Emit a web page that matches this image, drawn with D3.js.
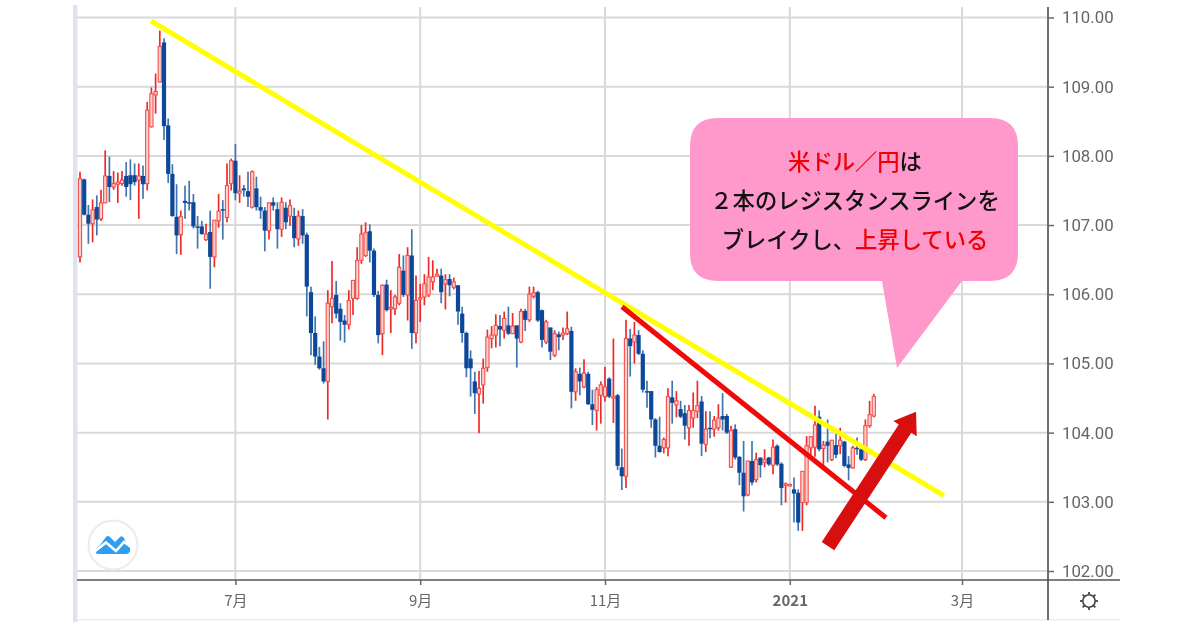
<!DOCTYPE html>
<html><head><meta charset="utf-8">
<script src="https://cdn.jsdelivr.net/npm/d3@7/dist/d3.min.js"></script>
<style>html,body{margin:0;padding:0;background:#fff;overflow:hidden}svg{display:block}</style>
</head><body><div id="chart"></div>
<script>
const opens=[106.54,107.66,107.15,107.02,107.26,107.09,107.32,107.71,107.55,107.59,107.60,107.71,107.72,107.72,107.65,107.71,107.60,108.42,108.88,109.07,109.64,108.44,107.74,107.12,106.86,107.35,107.33,107.33,106.98,106.98,106.79,106.90,106.54,107.06,107.23,107.11,107.60,107.93,107.46,107.53,107.49,107.26,107.53,107.26,107.21,106.92,
107.33,107.23,106.94,107.25,107.13,107.13,106.80,107.13,106.86,106.03,105.44,105.10,104.93,104.74,105.82,105.99,105.79,105.62,105.56,105.94,105.94,106.49,106.56,106.91,106.63,105.99,105.43,106.14,105.79,105.79,105.87,106.34,105.99,106.56,105.44,105.93,105.96,105.99,106.18,106.26,106.27,106.15,106.22,106.10,106.13,
105.72,105.44,105.07,104.74,104.56,104.69,104.94,105.36,105.41,105.54,105.48,105.55,105.43,105.55,105.31,105.76,105.63,105.97,106.03,105.77,105.31,105.52,105.12,105.42,105.41,105.43,105.47,104.59,104.85,104.66,104.85,104.41,104.32,104.54,104.52,104.78,104.50,104.54,103.50,103.37,105.36,105.31,105.41,105.14,
104.60,104.60,104.19,103.81,103.78,103.78,104.51,104.40,104.34,104.28,104.07,104.21,104.31,104.45,103.83,104.07,104.05,104.07,104.24,104.24,103.50,104.05,103.65,103.42,103.10,103.59,103.32,103.64,103.57,103.64,103.53,103.81,103.55,103.24,103.24,103.18,103.13,102.99,102.99,103.78,103.79,104.23,103.77,103.87,103.61,103.82,103.81,103.87,103.54,103.49,103.78,103.76,103.61,104.10,104.24];
const highs=[107.77,107.67,107.29,107.37,107.43,107.51,108.08,107.99,107.78,107.76,107.78,107.91,107.95,107.89,107.89,107.86,108.78,108.99,109.19,109.81,109.70,108.54,107.88,107.59,107.21,107.57,107.64,107.45,107.13,107.06,107.02,107.21,107.07,107.45,107.36,107.89,107.96,108.17,107.72,107.58,107.77,107.79,107.70,107.41,107.26,107.33,
107.40,107.33,107.40,107.33,107.37,107.25,107.21,107.23,106.89,106.11,105.68,105.24,105.32,106.06,106.48,106.19,105.87,105.70,106.06,106.20,106.68,107.00,107.04,107.01,106.66,106.05,106.14,106.21,106.06,105.99,106.58,106.56,106.68,106.94,106.27,106.15,106.29,106.54,106.49,106.37,106.37,106.29,106.29,106.24,106.13,
105.82,105.46,105.19,104.88,104.89,105.07,105.49,105.54,105.71,105.70,105.75,105.82,105.73,105.55,105.79,105.79,106.11,106.11,106.05,105.78,105.63,105.52,105.48,105.46,105.52,105.75,105.53,104.93,104.94,105.06,104.88,104.62,104.66,104.74,104.95,104.80,105.36,104.56,103.77,105.63,105.50,105.60,105.48,105.19,
104.75,104.60,104.21,104.23,103.93,104.64,104.75,104.60,104.46,104.40,104.40,104.58,104.75,104.53,104.31,104.31,104.24,104.41,104.57,104.27,104.10,104.12,103.66,103.88,103.59,103.88,103.71,103.64,103.76,103.65,103.90,103.83,103.57,103.28,103.26,103.35,103.18,103.44,103.95,103.95,104.39,104.32,103.88,104.19,103.89,104.02,104.07,103.88,103.66,103.81,103.93,103.83,104.19,104.46,104.56];
const lows=[106.46,107.14,106.73,106.75,106.85,107.06,107.32,107.33,107.51,107.32,107.57,107.41,107.36,107.57,107.09,107.38,107.50,108.41,108.61,109.06,108.23,107.61,107.12,106.58,106.57,107.09,107.21,106.95,106.66,106.86,106.77,106.08,106.39,106.96,106.79,107.04,107.50,107.36,107.32,107.41,107.26,107.24,107.21,107.09,106.62,106.79,
107.21,106.66,106.83,106.94,106.99,106.68,106.70,106.73,105.68,105.12,104.98,104.91,104.71,104.19,105.58,105.65,105.33,105.30,105.49,105.70,105.92,106.44,106.54,106.46,105.96,105.29,105.12,105.75,105.44,105.70,105.84,105.96,105.62,105.21,105.29,105.60,105.84,105.96,106.06,106.25,105.87,105.78,105.97,106.07,105.56,
105.30,104.80,104.52,104.27,103.99,104.42,104.88,105.22,105.23,105.25,105.36,105.41,105.43,104.94,105.29,105.47,105.60,105.94,105.60,105.23,105.28,105.05,105.09,105.19,105.34,105.41,104.35,104.46,104.54,104.64,104.40,104.11,104.03,104.13,104.45,104.50,104.14,103.46,103.17,103.20,104.81,105.00,105.12,104.58,
104.36,104.07,103.64,103.71,103.70,103.66,104.13,104.22,104.21,103.90,103.81,104.07,104.21,103.66,103.72,103.92,103.94,104.03,104.03,103.98,103.49,103.61,103.24,102.86,103.08,103.24,103.28,103.35,103.50,103.52,103.40,103.52,102.95,102.99,103.23,102.70,102.58,102.58,102.95,103.65,103.65,103.73,103.52,103.57,103.59,103.63,103.69,103.50,103.31,103.48,103.68,103.59,103.59,104.07,104.22];
const closes=[107.67,107.15,107.02,107.22,107.08,107.32,107.71,107.55,107.60,107.62,107.65,107.55,107.59,107.62,107.71,107.59,108.66,108.90,108.93,109.58,108.43,107.74,107.13,106.85,107.12,107.32,107.32,106.98,106.96,106.87,106.87,106.54,107.07,107.20,107.21,107.57,107.93,107.46,107.49,107.50,107.41,107.77,107.26,107.21,106.92,107.32,
107.28,106.94,107.33,107.04,107.28,106.81,107.13,106.85,106.11,105.44,105.10,104.93,104.74,105.87,105.94,105.72,105.60,105.56,105.91,106.20,106.49,106.87,106.89,106.63,105.99,105.41,106.13,105.77,105.81,105.96,106.39,105.99,106.56,105.44,105.91,105.95,106.15,106.25,106.25,106.29,106.03,106.21,106.13,106.18,105.75,
105.44,104.93,104.93,104.57,104.64,104.93,105.38,105.41,105.55,105.49,105.65,105.43,105.54,105.36,105.75,105.63,106.00,106.02,105.62,105.34,105.60,105.17,105.43,105.38,105.44,105.50,104.59,104.88,104.74,104.86,104.41,104.33,104.62,104.69,104.66,104.52,104.52,103.52,103.37,105.36,105.25,105.41,105.14,104.62,
104.59,104.19,103.81,103.72,103.90,104.52,104.43,104.46,104.23,104.10,104.32,104.32,104.39,103.84,104.05,104.05,104.18,104.21,104.19,104.00,104.03,103.64,103.42,103.08,103.59,103.28,103.61,103.53,103.61,103.54,103.79,103.54,103.20,103.26,103.25,103.12,102.70,103.44,103.81,103.94,104.11,103.76,103.82,103.81,103.89,103.68,103.89,103.52,103.49,103.78,103.76,103.61,104.10,104.26,104.52];
const priceTicks=[102,103,104,105,106,107,108,109,110];
const monthLabels=['7月','9月','11月','2021','3月'];
const monthIndex=[37,81,125,169,210];
const resistanceYellow=[[16.9,109.95],[205.7,103.09]];
const resistanceRed=[[129.05,105.82],[191.9,102.77]];
const breakoutArrow=[[178.1,102.36],[199.05,104.30]];
const calloutLines=[
 [['米ドル／円','#f00000'],['は','#111']],
 [['２本のレジスタンスラインを','#111']],
 [['ブレイクし、','#111'],['上昇している','#f00000']]
];

const W=1200,H=630;
const x=d3.scaleLinear().domain([0,189]).range([80,873.8]);
const y=d3.scaleLinear().domain([102,110]).range([571,17.5]);
const RIGHT=1048,BOTTOM=580;
const svg=d3.select('#chart').append('svg').attr('width',W).attr('height',H)
  .style('filter','blur(0.55px)');
svg.append('rect').attr('width',W).attr('height',H).attr('fill','#fff');
svg.append('rect').attr('x',73).attr('y',5).attr('width',4.5).attr('height',617).attr('fill','#dfe2f0');
svg.append('rect').attr('x',77).attr('y',619).attr('width',1043).attr('height',1.5).attr('fill','#ececec');

// grid
svg.append('g').selectAll('line').data(priceTicks).join('line')
  .attr('x1',77).attr('x2',RIGHT).attr('y1',d=>y(d)).attr('y2',d=>y(d))
  .attr('stroke','#d9d9d9').attr('stroke-width',2);
svg.append('g').selectAll('line').data(monthIndex).join('line')
  .attr('x1',d=>x(d)).attr('x2',d=>x(d)).attr('y1',7).attr('y2',BOTTOM)
  .attr('stroke','#d9d9d9').attr('stroke-width',2);

// candles
const idx=d3.range(opens.length);
const up=i=>closes[i]>=opens[i];
const gc=svg.append('g');
gc.selectAll('line').data(idx).join('line')
  .attr('x1',i=>x(i)).attr('x2',i=>x(i)).attr('y1',i=>y(highs[i])).attr('y2',i=>y(lows[i]))
  .attr('stroke',i=>up(i)?'#f02a2a':'#3f76b0').attr('stroke-width',1.7);
gc.selectAll('rect').data(idx).join('rect')
  .attr('x',i=>x(i)-(up(i)?1.6:2.1)).attr('width',i=>up(i)?3.2:4.2)
  .attr('y',i=>y(Math.max(opens[i],closes[i])))
  .attr('height',i=>Math.max(1.5,Math.abs(y(opens[i])-y(closes[i]))))
  .attr('fill',i=>up(i)?'#fcd0cc':'#0c4799')
  .attr('stroke',i=>up(i)?'#f2504c':'none').attr('stroke-width',i=>up(i)?1.1:0);

// trend lines
const pt=d=>[x(d[0]),y(d[1])];
const line=d3.line().x(d=>x(d[0])).y(d=>y(d[1]));
svg.append('path').attr('d',line(resistanceYellow)).attr('stroke','#ffff00').attr('stroke-width',5).attr('fill','none');
svg.append('path').attr('d',line(resistanceRed)).attr('stroke','#f00a0a').attr('stroke-width',5).attr('fill','none');

// arrow
(function(){
  const [a,b]=breakoutArrow.map(pt);
  const L=Math.hypot(b[0]-a[0],b[1]-a[1]),ux=(b[0]-a[0])/L,uy=(b[1]-a[1])/L,nx=-uy,ny=ux;
  const shaft=7.5,head=14,hl=20;
  const bx=b[0]-ux*hl,by=b[1]-uy*hl;
  const P=[[a[0]+nx*shaft,a[1]+ny*shaft],[bx+nx*shaft,by+ny*shaft],[bx+nx*head,by+ny*head],b,
           [bx-nx*head,by-ny*head],[bx-nx*shaft,by-ny*shaft],[a[0]-nx*shaft,a[1]-ny*shaft]];
  svg.append('polygon').attr('points',P.map(p=>p.join(',')).join(' ')).attr('fill','#d80f0f');
})();

// callout
svg.append('path').attr('fill','#ff99cc')
  .attr('d','M718,118 H990 Q1018,118 1018,146 V253 Q1018,281 990,281 H962 L897,368 L882,281 H718 Q690,281 690,253 V146 Q690,118 718,118 Z');
const tg=svg.append('g').attr('font-family','"Noto Sans CJK JP"').attr('font-weight',500).attr('font-size',22.3).attr('text-anchor','middle');
calloutLines.forEach((ln,k)=>{
  const t=tg.append('text').attr('x',855).attr('y',[170,209,248][k]);
  ln.forEach(s=>t.append('tspan').attr('fill',s[1]).text(s[0]));
});

// axes
const ax=svg.append('g').attr('transform',`translate(${RIGHT},0)`).call(
  d3.axisRight(y).tickValues(priceTicks).tickFormat(d3.format('.2f')).tickSize(6).tickPadding(8));
ax.select('.domain').remove();
ax.selectAll('line').attr('stroke','#666a73').attr('stroke-width',1.5);
ax.selectAll('text').attr('font-family','Roboto').attr('font-size',16.8).attr('fill','#666');
svg.append('line').attr('x1',RIGHT).attr('x2',RIGHT).attr('y1',7).attr('y2',620).attr('stroke','#6a6e78').attr('stroke-width',2);
svg.append('line').attr('x1',77).attr('x2',1120).attr('y1',BOTTOM).attr('y2',BOTTOM).attr('stroke','#555').attr('stroke-width',1.6);
const xs=d3.scaleOrdinal().domain(monthIndex).range(monthLabels);
const bx=svg.append('g').attr('transform',`translate(0,${BOTTOM})`).call(
  d3.axisBottom(x).tickValues(monthIndex).tickFormat(d=>xs(d)).tickSize(5).tickPadding(10));
bx.select('.domain').remove();
bx.selectAll('line').attr('stroke','#666').attr('stroke-width',1.5);
bx.selectAll('text').attr('font-family','"Noto Sans CJK JP"').attr('font-size',15).attr('fill','#666')
  .attr('font-weight',d=>xs(d)==='2021'?700:400);

// logo
const logo=svg.append('g').attr('transform','translate(113,545)');
logo.append('circle').attr('r',24.5).attr('fill','#fff').attr('stroke','#ececec').attr('stroke-width',2);
logo.append('path').attr('fill','#2e9ff0').attr('d','M-17,8 Q-18,3 -13,0 L-7,-8 Q-5,-10 -3,-8 L2,-3 L7,-8 Q9,-10 11,-7 L13,-2 Q18,0 17,5 Q17,9 13,9 L-14,9 Q-17,9 -17,8 Z');
logo.append('path').attr('fill','none').attr('stroke','#fff').attr('stroke-width',2.6).attr('d','M-19,7 L-7,-2.5 L3,6 L11,-3 L18,2');

// gear
const gear=svg.append('g').attr('transform','translate(1089,601)');
gear.append('circle').attr('r',6.2).attr('fill','none').attr('stroke','#444').attr('stroke-width',1.6);
gear.selectAll('line').data(d3.range(8)).join('line')
  .attr('x1',d=>6.5*Math.cos(d*Math.PI/4)).attr('y1',d=>6.5*Math.sin(d*Math.PI/4))
  .attr('x2',d=>9*Math.cos(d*Math.PI/4)).attr('y2',d=>9*Math.sin(d*Math.PI/4))
  .attr('stroke','#444').attr('stroke-width',1.8);
</script></body></html>
